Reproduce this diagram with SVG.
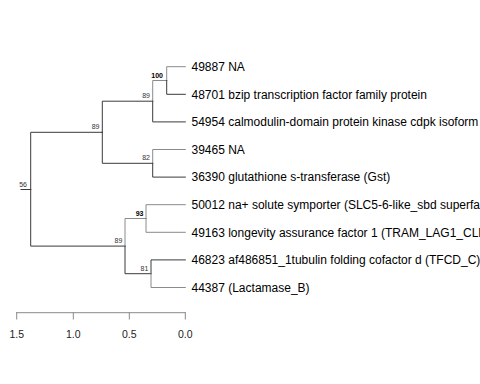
<svg xmlns="http://www.w3.org/2000/svg" width="480" height="384" viewBox="0 0 480 384">
<style>
.e{fill:none;stroke-width:1;stroke-linecap:square}
.d{stroke:#3a3a3a}
.g{stroke:#8a8a8a}
.leaf{font-family:"Liberation Sans",Arial,sans-serif;font-size:12px;fill:#000}
.bs{font-family:"Liberation Sans",Arial,sans-serif;font-size:7px;fill:#333;text-anchor:end}
.bb{font-weight:bold;fill:#000}
.ax{font-family:"Liberation Sans",Arial,sans-serif;font-size:10.5px;fill:#222;text-anchor:middle}
</style>
<rect width="480" height="384" fill="#fff"/>
<g id="connectors">
<!-- root stem -->
<path class="e d" d="M21,189.5H30.7"/>
<!-- root to upper 89 -->
<path class="e d" d="M30.7,189.5V132.3H102.3"/>
<!-- root to lower 89 -->
<path class="e d" d="M30.7,189.5V246.1H125"/>
<!-- upper 89 -> node 89b -->
<path class="e d" d="M102.3,132.3V101.2H152.7"/>
<!-- upper 89 -> node 82 -->
<path class="e d" d="M102.3,132.3V163.3H152.7"/>
<!-- 89b -> 100 -->
<path class="e g" d="M152.7,101.2V80.5H166.7"/>
<!-- 89b -> 54954 -->
<path class="e d" d="M152.7,101.2V121.9H185.3"/>
<!-- 100 -> 49887 -->
<path class="e g" d="M166.7,80.5V66.7H185.3"/>
<!-- 100 -> 48701 -->
<path class="e d" d="M166.7,80.5V94.3H185.3"/>
<!-- 82 -> 39465 -->
<path class="e g" d="M152.7,163.3V149.5H185.3"/>
<!-- 82 -> 36390 -->
<path class="e d" d="M152.7,163.3V177.1H185.3"/>
<!-- lower 89 -> 93 -->
<path class="e g" d="M125,246.1V218.5H146"/>
<!-- lower 89 -> 81 -->
<path class="e d" d="M125,246.1V273.7H151"/>
<!-- 93 -> 50012 -->
<path class="e g" d="M146,218.5V204.7H185.3"/>
<!-- 93 -> 49163 -->
<path class="e g" d="M146,218.5V232.3H185.3"/>
<!-- 81 -> 46823 -->
<path class="e d" d="M151,273.7V259.9H185.3"/>
<!-- 81 -> 44387 -->
<path class="e g" d="M151,273.7V287.5H185.3"/>
</g>
<g id="bootstrap">
<text class="bs" x="27" y="186.5">56</text>
<text class="bs" x="99.5" y="129.3">89</text>
<text class="bs" x="150" y="98.3">89</text>
<text class="bs bb" x="163" y="77.5">100</text>
<text class="bs" x="150" y="160.3">82</text>
<text class="bs" x="122.3" y="243.1">89</text>
<text class="bs bb" x="143.5" y="215.5">93</text>
<text class="bs" x="148.3" y="270.7">81</text>
</g>
<g id="n49887"><text class="leaf" x="191.5" y="71">49887 NA</text></g>
<g id="n48701"><text class="leaf" x="191.5" y="98.6">48701 bzip transcription factor family protein</text></g>
<g id="n54954"><text class="leaf" x="191.5" y="126.2">54954 calmodulin-domain protein kinase cdpk isoform</text></g>
<g id="n39465"><text class="leaf" x="191.5" y="153.8">39465 NA</text></g>
<g id="n36390"><text class="leaf" x="191.5" y="181.4">36390 glutathione s-transferase (Gst)</text></g>
<g id="n50012"><text class="leaf" x="191.5" y="209">50012 na+ solute symporter (SLC5-6-like_sbd superfamily)</text></g>
<g id="n49163"><text class="leaf" x="191.5" y="236.6">49163 longevity assurance factor 1 (TRAM_LAG1_CLN8)</text></g>
<g id="n46823"><text class="leaf" x="191.5" y="264.2">46823 af486851_1tubulin folding cofactor d (TFCD_C)</text></g>
<g id="n44387"><text class="leaf" x="191.5" y="291.8">44387 (Lactamase_B)</text></g>
<g id="axis">
<path class="e g" d="M16.7,312.7H185.3M16.7,312.7V319M73.3,312.7V319M129.3,312.7V319M185.3,312.7V319"/>
<text class="ax" x="16.7" y="338">1.5</text>
<text class="ax" x="73.3" y="338">1.0</text>
<text class="ax" x="129.3" y="338">0.5</text>
<text class="ax" x="185.3" y="338">0.0</text>
</g>
</svg>
